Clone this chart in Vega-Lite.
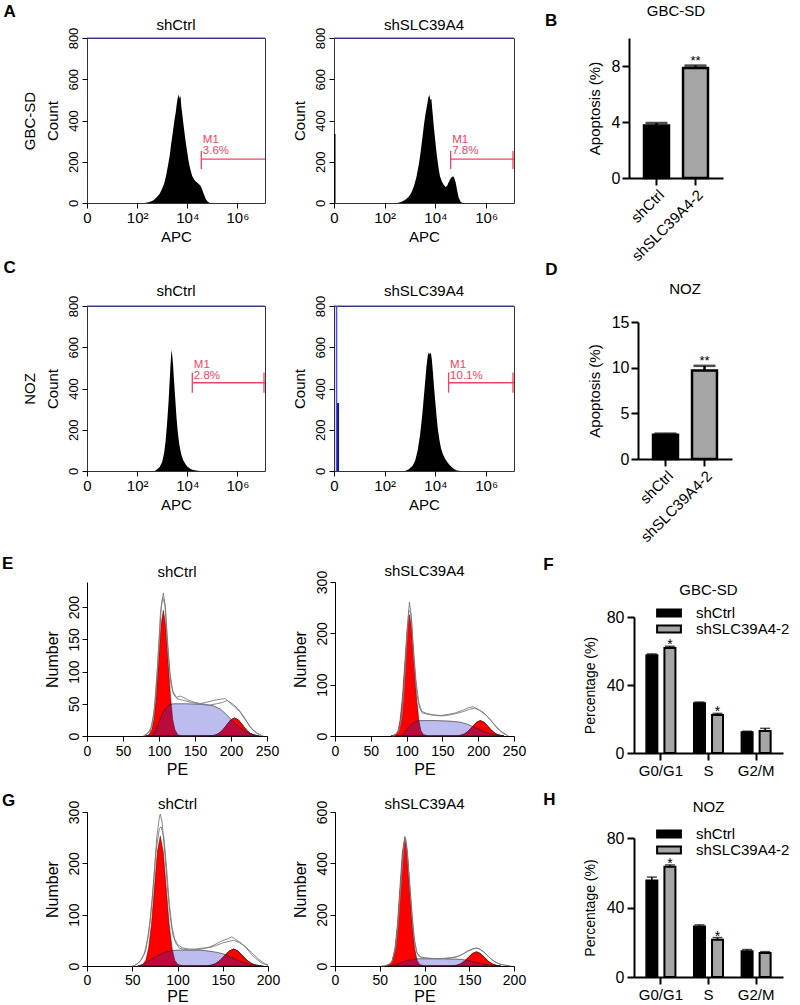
{
"$schema": "https://vega.github.io/schema/vega-lite/v6.json",
"background": "white",
"padding": {"left": 2, "top": 2, "right": 0, "bottom": 0},
"config": {
 "font": "Liberation Sans",
 "view": {"stroke": null},
 "axis": {"grid": false, "labelColor": "black", "titleColor": "black", "tickColor": "black", "domainColor": "black", "titleFontWeight": "normal", "labelFontSize": 13, "titleFontSize": 15, "labelFont": "Liberation Sans", "titleFont": "Liberation Sans", "labelOverlap": false},
 "title": {"fontWeight": "normal", "fontSize": 15, "font": "Liberation Sans", "color": "black"},
 "legend": {"labelFont": "Liberation Sans"}
},
"datasets": {
 "hA1": [{"u":2.3,"c":0},{"u":2.45,"c":4},{"u":2.6,"c":10},{"u":2.7,"c":18},{"u":2.8,"c":30},{"u":2.9,"c":45},{"u":3.0,"c":70},{"u":3.08,"c":95},{"u":3.15,"c":130},{"u":3.22,"c":175},{"u":3.3,"c":230},{"u":3.36,"c":290},{"u":3.42,"c":340},{"u":3.48,"c":395},{"u":3.54,"c":440},{"u":3.58,"c":480},{"u":3.62,"c":510},{"u":3.66,"c":525},{"u":3.7,"c":505},{"u":3.73,"c":520},{"u":3.76,"c":470},{"u":3.8,"c":430},{"u":3.85,"c":380},{"u":3.9,"c":330},{"u":3.95,"c":285},{"u":4.0,"c":245},{"u":4.05,"c":205},{"u":4.1,"c":175},{"u":4.15,"c":150},{"u":4.2,"c":130},{"u":4.27,"c":115},{"u":4.33,"c":105},{"u":4.4,"c":98},{"u":4.46,"c":92},{"u":4.52,"c":85},{"u":4.58,"c":70},{"u":4.64,"c":50},{"u":4.7,"c":30},{"u":4.76,"c":15},{"u":4.82,"c":6},{"u":4.9,"c":0}],
 "hA2": [{"u":2.5,"c":0},{"u":2.65,"c":5},{"u":2.8,"c":15},{"u":2.95,"c":30},{"u":3.05,"c":50},{"u":3.15,"c":80},{"u":3.25,"c":125},{"u":3.35,"c":190},{"u":3.42,"c":250},{"u":3.5,"c":330},{"u":3.56,"c":390},{"u":3.62,"c":440},{"u":3.68,"c":480},{"u":3.72,"c":510},{"u":3.76,"c":525},{"u":3.8,"c":500},{"u":3.84,"c":505},{"u":3.88,"c":450},{"u":3.93,"c":380},{"u":3.98,"c":320},{"u":4.03,"c":260},{"u":4.08,"c":210},{"u":4.13,"c":165},{"u":4.18,"c":130},{"u":4.25,"c":105},{"u":4.32,"c":90},{"u":4.4,"c":78},{"u":4.46,"c":82},{"u":4.52,"c":100},{"u":4.58,"c":115},{"u":4.64,"c":125},{"u":4.7,"c":130},{"u":4.74,"c":122},{"u":4.8,"c":100},{"u":4.86,"c":60},{"u":4.92,"c":25},{"u":5.0,"c":5},{"u":5.08,"c":0}],
 "hC1": [{"u":2.7,"c":0},{"u":2.8,"c":8},{"u":2.9,"c":20},{"u":3.0,"c":45},{"u":3.08,"c":90},{"u":3.14,"c":150},{"u":3.2,"c":240},{"u":3.25,"c":330},{"u":3.29,"c":420},{"u":3.33,"c":510},{"u":3.36,"c":570},{"u":3.38,"c":585},{"u":3.4,"c":560},{"u":3.43,"c":520},{"u":3.47,"c":440},{"u":3.52,"c":350},{"u":3.57,"c":260},{"u":3.62,"c":190},{"u":3.68,"c":130},{"u":3.75,"c":85},{"u":3.83,"c":55},{"u":3.92,"c":35},{"u":4.0,"c":22},{"u":4.1,"c":12},{"u":4.2,"c":6},{"u":4.35,"c":2},{"u":4.5,"c":0}],
 "hC2": [{"u":2.8,"c":0},{"u":2.95,"c":8},{"u":3.1,"c":25},{"u":3.2,"c":50},{"u":3.3,"c":100},{"u":3.4,"c":180},{"u":3.48,"c":270},{"u":3.55,"c":370},{"u":3.6,"c":440},{"u":3.65,"c":510},{"u":3.7,"c":560},{"u":3.74,"c":575},{"u":3.78,"c":565},{"u":3.82,"c":575},{"u":3.86,"c":540},{"u":3.9,"c":480},{"u":3.95,"c":400},{"u":4.0,"c":330},{"u":4.05,"c":260},{"u":4.1,"c":200},{"u":4.16,"c":150},{"u":4.22,"c":110},{"u":4.3,"c":80},{"u":4.38,"c":60},{"u":4.46,"c":45},{"u":4.55,"c":30},{"u":4.65,"c":18},{"u":4.75,"c":8},{"u":4.85,"c":3},{"u":5.0,"c":0}],
 "cE1": [
  {"s":"G1","x":80,"y":0},{"s":"G1","x":86,"y":2},{"s":"G1","x":90,"y":10},{"s":"G1","x":93,"y":26},{"s":"G1","x":96,"y":61},{"s":"G1","x":99.5,"y":118},{"s":"G1","x":103,"y":174},{"s":"G1","x":106,"y":195},{"s":"G1","x":109,"y":174},{"s":"G1","x":112.5,"y":118},{"s":"G1","x":116,"y":61},{"s":"G1","x":119,"y":26},{"s":"G1","x":122,"y":10},{"s":"G1","x":126,"y":2},{"s":"G1","x":132,"y":0},
  {"s":"G2","x":172,"y":0.3},{"s":"G2","x":177.5,"y":1.2},{"s":"G2","x":183,"y":3.8},{"s":"G2","x":188.5,"y":9.1},{"s":"G2","x":194,"y":17},{"s":"G2","x":199.5,"y":24.7},{"s":"G2","x":205,"y":28},{"s":"G2","x":210.5,"y":24.7},{"s":"G2","x":216,"y":17},{"s":"G2","x":221.5,"y":9.1},{"s":"G2","x":227,"y":3.8},{"s":"G2","x":232.5,"y":1.2},{"s":"G2","x":238,"y":0.3},
  {"s":"S","x":90,"y":0},{"s":"S","x":95,"y":8},{"s":"S","x":100,"y":22},{"s":"S","x":105,"y":35},{"s":"S","x":110,"y":44},{"s":"S","x":115,"y":49},{"s":"S","x":120,"y":50},{"s":"S","x":140,"y":50},{"s":"S","x":160,"y":49},{"s":"S","x":175,"y":47},{"s":"S","x":185,"y":42},{"s":"S","x":192,"y":35},{"s":"S","x":200,"y":26},{"s":"S","x":208,"y":17},{"s":"S","x":216,"y":10},{"s":"S","x":224,"y":5},{"s":"S","x":232,"y":2},{"s":"S","x":240,"y":0},
  {"s":"r1","x":78,"y":0},{"s":"r1","x":85,"y":5},{"s":"r1","x":90,"y":15},{"s":"r1","x":95,"y":55},{"s":"r1","x":100,"y":140},{"s":"r1","x":103,"y":200},{"s":"r1","x":106,"y":222},{"s":"r1","x":109,"y":200},{"s":"r1","x":112,"y":140},{"s":"r1","x":116,"y":85},{"s":"r1","x":120,"y":65},{"s":"r1","x":125,"y":58},{"s":"r1","x":135,"y":55},{"s":"r1","x":145,"y":52},{"s":"r1","x":155,"y":50},{"s":"r1","x":165,"y":52},{"s":"r1","x":175,"y":55},{"s":"r1","x":185,"y":57},{"s":"r1","x":192,"y":58},{"s":"r1","x":198,"y":52},{"s":"r1","x":205,"y":45},{"s":"r1","x":212,"y":38},{"s":"r1","x":220,"y":25},{"s":"r1","x":228,"y":12},{"s":"r1","x":235,"y":5},{"s":"r1","x":245,"y":0},
  {"s":"r2","x":80,"y":0},{"s":"r2","x":88,"y":8},{"s":"r2","x":93,"y":35},{"s":"r2","x":98,"y":110},{"s":"r2","x":102,"y":190},{"s":"r2","x":105,"y":215},{"s":"r2","x":108,"y":205},{"s":"r2","x":111,"y":160},{"s":"r2","x":115,"y":100},{"s":"r2","x":119,"y":70},{"s":"r2","x":124,"y":60},{"s":"r2","x":130,"y":62},{"s":"r2","x":140,"y":56},{"s":"r2","x":150,"y":52},{"s":"r2","x":160,"y":50},{"s":"r2","x":170,"y":48},{"s":"r2","x":180,"y":50},{"s":"r2","x":188,"y":52},{"s":"r2","x":195,"y":55},{"s":"r2","x":202,"y":50},{"s":"r2","x":210,"y":42},{"s":"r2","x":218,"y":30},{"s":"r2","x":226,"y":15},{"s":"r2","x":234,"y":6},{"s":"r2","x":242,"y":0}
 ],
 "cE2": [
  {"s":"G1","x":78,"y":0},{"s":"G1","x":84.5,"y":3},{"s":"G1","x":88,"y":10},{"s":"G1","x":91,"y":32},{"s":"G1","x":94.25,"y":77},{"s":"G1","x":97.5,"y":143},{"s":"G1","x":100.75,"y":208},{"s":"G1","x":104,"y":236},{"s":"G1","x":107.25,"y":208},{"s":"G1","x":110.5,"y":143},{"s":"G1","x":113.75,"y":77},{"s":"G1","x":117,"y":32},{"s":"G1","x":120,"y":10},{"s":"G1","x":123.5,"y":3},{"s":"G1","x":130,"y":0},
  {"s":"G2","x":170,"y":0.3},{"s":"G2","x":175.5,"y":1.3},{"s":"G2","x":181,"y":4},{"s":"G2","x":186.5,"y":9.7},{"s":"G2","x":192,"y":18},{"s":"G2","x":197.5,"y":26.5},{"s":"G2","x":203,"y":30},{"s":"G2","x":208.5,"y":26.5},{"s":"G2","x":214,"y":18},{"s":"G2","x":219.5,"y":9.7},{"s":"G2","x":225,"y":4},{"s":"G2","x":230.5,"y":1.3},{"s":"G2","x":236,"y":0.3},
  {"s":"S","x":92,"y":0},{"s":"S","x":97,"y":6},{"s":"S","x":102,"y":15},{"s":"S","x":107,"y":23},{"s":"S","x":112,"y":28},{"s":"S","x":118,"y":30},{"s":"S","x":140,"y":30},{"s":"S","x":160,"y":29},{"s":"S","x":175,"y":27},{"s":"S","x":185,"y":23},{"s":"S","x":193,"y":18},{"s":"S","x":201,"y":13},{"s":"S","x":209,"y":8},{"s":"S","x":217,"y":4},{"s":"S","x":226,"y":2},{"s":"S","x":235,"y":0},
  {"s":"r1","x":80,"y":0},{"s":"r1","x":86,"y":4},{"s":"r1","x":90,"y":12},{"s":"r1","x":94,"y":45},{"s":"r1","x":98,"y":130},{"s":"r1","x":101,"y":210},{"s":"r1","x":104,"y":261},{"s":"r1","x":107,"y":225},{"s":"r1","x":110,"y":150},{"s":"r1","x":114,"y":85},{"s":"r1","x":118,"y":55},{"s":"r1","x":122,"y":45},{"s":"r1","x":130,"y":42},{"s":"r1","x":140,"y":40},{"s":"r1","x":150,"y":39},{"s":"r1","x":160,"y":41},{"s":"r1","x":170,"y":44},{"s":"r1","x":180,"y":48},{"s":"r1","x":188,"y":52},{"s":"r1","x":195,"y":54},{"s":"r1","x":202,"y":50},{"s":"r1","x":210,"y":42},{"s":"r1","x":218,"y":30},{"s":"r1","x":226,"y":16},{"s":"r1","x":234,"y":6},{"s":"r1","x":242,"y":0},
  {"s":"r2","x":82,"y":0},{"s":"r2","x":88,"y":8},{"s":"r2","x":92,"y":30},{"s":"r2","x":96,"y":90},{"s":"r2","x":100,"y":180},{"s":"r2","x":103,"y":245},{"s":"r2","x":106,"y":240},{"s":"r2","x":109,"y":180},{"s":"r2","x":113,"y":110},{"s":"r2","x":117,"y":65},{"s":"r2","x":121,"y":48},{"s":"r2","x":128,"y":44},{"s":"r2","x":138,"y":41},{"s":"r2","x":148,"y":40},{"s":"r2","x":158,"y":42},{"s":"r2","x":168,"y":45},{"s":"r2","x":178,"y":50},{"s":"r2","x":186,"y":55},{"s":"r2","x":193,"y":57},{"s":"r2","x":200,"y":52},{"s":"r2","x":208,"y":45},{"s":"r2","x":216,"y":33},{"s":"r2","x":224,"y":20},{"s":"r2","x":232,"y":9},{"s":"r2","x":240,"y":2}
 ],
 "cG1": [
  {"s":"G1","x":56,"y":0},{"s":"G1","x":61.5,"y":3},{"s":"G1","x":65,"y":11},{"s":"G1","x":68,"y":34},{"s":"G1","x":71.25,"y":82},{"s":"G1","x":74.5,"y":153},{"s":"G1","x":77.75,"y":223},{"s":"G1","x":81,"y":253},{"s":"G1","x":84.25,"y":223},{"s":"G1","x":87.5,"y":153},{"s":"G1","x":90.75,"y":82},{"s":"G1","x":94,"y":34},{"s":"G1","x":97,"y":11},{"s":"G1","x":100.5,"y":3},{"s":"G1","x":106,"y":0},
  {"s":"G2","x":132,"y":0.4},{"s":"G2","x":137,"y":1.4},{"s":"G2","x":142,"y":4.5},{"s":"G2","x":147,"y":10.7},{"s":"G2","x":152,"y":20},{"s":"G2","x":157,"y":29},{"s":"G2","x":162,"y":33},{"s":"G2","x":167,"y":29},{"s":"G2","x":172,"y":20},{"s":"G2","x":177,"y":10.7},{"s":"G2","x":182,"y":4.5},{"s":"G2","x":187,"y":1.4},{"s":"G2","x":192,"y":0.4},
  {"s":"S","x":58,"y":0},{"s":"S","x":64,"y":5},{"s":"S","x":70,"y":12},{"s":"S","x":78,"y":20},{"s":"S","x":86,"y":27},{"s":"S","x":94,"y":30},{"s":"S","x":100,"y":31},{"s":"S","x":115,"y":31},{"s":"S","x":125,"y":31},{"s":"S","x":135,"y":29},{"s":"S","x":142,"y":27},{"s":"S","x":150,"y":24},{"s":"S","x":157,"y":19},{"s":"S","x":164,"y":13},{"s":"S","x":171,"y":8},{"s":"S","x":178,"y":4},{"s":"S","x":186,"y":2},{"s":"S","x":195,"y":0},
  {"s":"r1","x":50,"y":0},{"s":"r1","x":55,"y":3},{"s":"r1","x":60,"y":12},{"s":"r1","x":65,"y":30},{"s":"r1","x":70,"y":90},{"s":"r1","x":74,"y":170},{"s":"r1","x":77,"y":250},{"s":"r1","x":80,"y":290},{"s":"r1","x":81,"y":296},{"s":"r1","x":83,"y":280},{"s":"r1","x":86,"y":220},{"s":"r1","x":89,"y":150},{"s":"r1","x":92,"y":95},{"s":"r1","x":95,"y":60},{"s":"r1","x":98,"y":45},{"s":"r1","x":102,"y":35},{"s":"r1","x":108,"y":32},{"s":"r1","x":115,"y":31},{"s":"r1","x":122,"y":32},{"s":"r1","x":130,"y":34},{"s":"r1","x":137,"y":38},{"s":"r1","x":144,"y":44},{"s":"r1","x":150,"y":50},{"s":"r1","x":156,"y":53},{"s":"r1","x":160,"y":57},{"s":"r1","x":164,"y":52},{"s":"r1","x":170,"y":45},{"s":"r1","x":176,"y":35},{"s":"r1","x":182,"y":22},{"s":"r1","x":188,"y":12},{"s":"r1","x":194,"y":5},{"s":"r1","x":200,"y":1},
  {"s":"r2","x":52,"y":0},{"s":"r2","x":58,"y":8},{"s":"r2","x":63,"y":22},{"s":"r2","x":68,"y":60},{"s":"r2","x":72,"y":130},{"s":"r2","x":76,"y":220},{"s":"r2","x":80,"y":268},{"s":"r2","x":82,"y":271},{"s":"r2","x":85,"y":250},{"s":"r2","x":88,"y":190},{"s":"r2","x":91,"y":120},{"s":"r2","x":94,"y":75},{"s":"r2","x":97,"y":52},{"s":"r2","x":100,"y":42},{"s":"r2","x":106,"y":35},{"s":"r2","x":113,"y":33},{"s":"r2","x":120,"y":33},{"s":"r2","x":128,"y":35},{"s":"r2","x":136,"y":36},{"s":"r2","x":143,"y":40},{"s":"r2","x":150,"y":45},{"s":"r2","x":157,"y":48},{"s":"r2","x":162,"y":50},{"s":"r2","x":168,"y":46},{"s":"r2","x":175,"y":38},{"s":"r2","x":182,"y":26},{"s":"r2","x":189,"y":14},{"s":"r2","x":196,"y":5},{"s":"r2","x":200,"y":2}
 ],
 "cG2": [
  {"s":"G1","x":56,"y":0},{"s":"G1","x":61.5,"y":6},{"s":"G1","x":64.25,"y":22},{"s":"G1","x":67,"y":68},{"s":"G1","x":69.75,"y":163},{"s":"G1","x":72.5,"y":304},{"s":"G1","x":75.25,"y":443},{"s":"G1","x":78,"y":502},{"s":"G1","x":80.75,"y":443},{"s":"G1","x":83.5,"y":304},{"s":"G1","x":86.25,"y":163},{"s":"G1","x":89,"y":68},{"s":"G1","x":91.75,"y":22},{"s":"G1","x":94.5,"y":6},{"s":"G1","x":100,"y":0},
  {"s":"G2","x":131,"y":0.6},{"s":"G2","x":135.5,"y":2.4},{"s":"G2","x":140,"y":7.4},{"s":"G2","x":144.5,"y":17.9},{"s":"G2","x":149,"y":33.4},{"s":"G2","x":153.5,"y":48.5},{"s":"G2","x":158,"y":55},{"s":"G2","x":162.5,"y":48.5},{"s":"G2","x":167,"y":33.4},{"s":"G2","x":171.5,"y":17.9},{"s":"G2","x":176,"y":7.4},{"s":"G2","x":180.5,"y":2.4},{"s":"G2","x":185,"y":0.6},
  {"s":"S","x":63,"y":0},{"s":"S","x":70,"y":8},{"s":"S","x":78,"y":18},{"s":"S","x":85,"y":25},{"s":"S","x":92,"y":28},{"s":"S","x":100,"y":28},{"s":"S","x":120,"y":28},{"s":"S","x":135,"y":27},{"s":"S","x":142,"y":25},{"s":"S","x":148,"y":22},{"s":"S","x":154,"y":17},{"s":"S","x":160,"y":12},{"s":"S","x":167,"y":7},{"s":"S","x":175,"y":3},{"s":"S","x":185,"y":0},
  {"s":"r1","x":52,"y":0},{"s":"r1","x":58,"y":3},{"s":"r1","x":63,"y":12},{"s":"r1","x":67,"y":60},{"s":"r1","x":70,"y":150},{"s":"r1","x":73,"y":290},{"s":"r1","x":76,"y":430},{"s":"r1","x":78,"y":505},{"s":"r1","x":80,"y":470},{"s":"r1","x":82,"y":380},{"s":"r1","x":85,"y":250},{"s":"r1","x":88,"y":120},{"s":"r1","x":91,"y":55},{"s":"r1","x":94,"y":38},{"s":"r1","x":98,"y":32},{"s":"r1","x":105,"y":30},{"s":"r1","x":115,"y":29},{"s":"r1","x":125,"y":30},{"s":"r1","x":135,"y":35},{"s":"r1","x":142,"y":45},{"s":"r1","x":148,"y":58},{"s":"r1","x":153,"y":66},{"s":"r1","x":157,"y":70},{"s":"r1","x":161,"y":68},{"s":"r1","x":166,"y":55},{"s":"r1","x":171,"y":38},{"s":"r1","x":176,"y":22},{"s":"r1","x":182,"y":10},{"s":"r1","x":188,"y":4},{"s":"r1","x":195,"y":1},
  {"s":"r2","x":54,"y":0},{"s":"r2","x":60,"y":5},{"s":"r2","x":64,"y":20},{"s":"r2","x":68,"y":80},{"s":"r2","x":71,"y":190},{"s":"r2","x":74,"y":340},{"s":"r2","x":77,"y":480},{"s":"r2","x":79,"y":495},{"s":"r2","x":81,"y":440},{"s":"r2","x":83,"y":340},{"s":"r2","x":86,"y":200},{"s":"r2","x":89,"y":95},{"s":"r2","x":92,"y":48},{"s":"r2","x":96,"y":35},{"s":"r2","x":102,"y":31},{"s":"r2","x":110,"y":29},{"s":"r2","x":120,"y":29},{"s":"r2","x":130,"y":32},{"s":"r2","x":138,"y":38},{"s":"r2","x":145,"y":50},{"s":"r2","x":150,"y":60},{"s":"r2","x":155,"y":67},{"s":"r2","x":159,"y":69},{"s":"r2","x":163,"y":63},{"s":"r2","x":168,"y":50},{"s":"r2","x":173,"y":32},{"s":"r2","x":178,"y":18},{"s":"r2","x":184,"y":8},{"s":"r2","x":190,"y":3},{"s":"r2","x":197,"y":0}
 ]
},
"spacing": 10,
"resolve": {"scale": {"color": "independent"}},
"vconcat": [
 {"spacing": -6, "resolve": {"scale": {"color": "independent"}}, "vconcat": [
  {"spacing": 29, "resolve": {"scale": {"color": "independent"}}, "hconcat": [
   {"title": {"text": "A", "anchor": "start", "fontSize": 17, "fontWeight": "bold", "dx": -18, "offset": -3},
    "spacing": 24,
    "hconcat": [
     {"width": 178, "height": 165, "title": {"text": "shCtrl", "offset": -6},
      "view": {"stroke": "#333", "strokeWidth": 1},
      "encoding": {
       "x": {"field": "u", "type": "quantitative", "scale": {"domain": [0, 7.1], "nice": false, "zero": false}, "axis": {"values": [0,2,4,6], "labelExpr": "datum.value == 0 ? '0' : datum.value == 2 ? '10²' : datum.value == 4 ? '10⁴' : '10⁶'", "domain": false, "tickSize": 5, "labelPadding": 2, "labelFontSize": 15, "labelFlush": false, "title": "APC", "titlePadding": 4}},
       "y": {"field": "c", "type": "quantitative", "scale": {"domain": [0, 800], "nice": false}, "axis": {"values": [0,200,400,600,800], "labelAngle": 270, "labelAlign": "center", "labelBaseline": "bottom", "domain": false, "tickSize": 5, "labelPadding": 2, "title": ["GBC-SD", "Count"], "titleLineHeight": 23, "titlePadding": 7}}
      },
      "layer": [
       {"data": {"name": "hA1"}, "mark": {"type": "area", "color": "black", "interpolate": "linear"}},
       {"data": {"values": [{"u": 0, "u2": 7.1, "c": 800}]}, "mark": {"type": "rule", "color": "#3c3cd8", "strokeWidth": 1.2}, "encoding": {"x2": {"field": "u2"}}},
       {"data": {"values": [{"u": 4.56, "u2": 7.1, "c": 213}]}, "mark": {"type": "rule", "color": "#f0445e", "strokeWidth": 1.3}, "encoding": {"x2": {"field": "u2"}}},
       {"data": {"values": [{"u": 4.56, "c": 165, "c2": 252}]}, "mark": {"type": "rule", "color": "#f0445e", "strokeWidth": 1.3}, "encoding": {"y2": {"field": "c2"}}},
       {"data": {"values": [{"u": 4.62, "c": 290, "t": "M1"}, {"u": 4.62, "c": 236, "t": "3.6%"}]}, "mark": {"type": "text", "color": "#f0445e", "align": "left", "baseline": "alphabetic", "fontSize": 11.5}, "encoding": {"text": {"field": "t"}}}
      ]},
     {"width": 180, "height": 165, "title": {"text": "shSLC39A4", "offset": -6},
      "view": {"stroke": "#333", "strokeWidth": 1},
      "encoding": {
       "x": {"field": "u", "type": "quantitative", "scale": {"domain": [0, 7.1], "nice": false, "zero": false}, "axis": {"values": [0,2,4,6], "labelExpr": "datum.value == 0 ? '0' : datum.value == 2 ? '10²' : datum.value == 4 ? '10⁴' : '10⁶'", "domain": false, "tickSize": 5, "labelPadding": 2, "labelFontSize": 15, "labelFlush": false, "title": "APC", "titlePadding": 4}},
       "y": {"field": "c", "type": "quantitative", "scale": {"domain": [0, 800], "nice": false}, "axis": {"values": [0,200,400,600,800], "labelAngle": 270, "labelAlign": "center", "labelBaseline": "bottom", "domain": false, "tickSize": 5, "labelPadding": 2, "title": "Count", "titlePadding": 7}}
      },
      "layer": [
       {"data": {"name": "hA2"}, "mark": {"type": "area", "color": "black", "interpolate": "linear"}},
       {"data": {"values": [{"u": 0.03, "c": 0, "c2": 335}]}, "mark": {"type": "rule", "color": "black", "strokeWidth": 1.5}, "encoding": {"y2": {"field": "c2"}}},
       {"data": {"values": [{"u": 0, "u2": 7.1, "c": 800}]}, "mark": {"type": "rule", "color": "#3c3cd8", "strokeWidth": 1.2}, "encoding": {"x2": {"field": "u2"}}},
       {"data": {"values": [{"u": 4.6, "u2": 7.1, "c": 213}]}, "mark": {"type": "rule", "color": "#f0445e", "strokeWidth": 1.3}, "encoding": {"x2": {"field": "u2"}}},
       {"data": {"values": [{"u": 4.6, "c": 165, "c2": 252}, {"u": 7.06, "c": 165, "c2": 252}]}, "mark": {"type": "rule", "color": "#f0445e", "strokeWidth": 1.3}, "encoding": {"y2": {"field": "c2"}}},
       {"data": {"values": [{"u": 4.66, "c": 290, "t": "M1"}, {"u": 4.66, "c": 236, "t": "7.8%"}]}, "mark": {"type": "text", "color": "#f0445e", "align": "left", "baseline": "alphabetic", "fontSize": 11.5}, "encoding": {"text": {"field": "t"}}}
      ]}
    ]},
   {"title": {"text": "B", "anchor": "start", "fontSize": 17, "fontWeight": "bold", "dx": -42, "offset": -26},
    "vconcat": [
     {"width": 94, "height": 140, "title": {"text": "GBC-SD", "offset": 19},
      "data": {"values": [{"g": "shCtrl", "v": 3.75, "e": 3.93, "star": ""}, {"g": "shSLC39A4-2", "v": 7.85, "e": 8.03, "star": "**"}]},
      "encoding": {"x": {"field": "g", "type": "nominal", "sort": null, "scale": {"paddingInner": 0.36, "paddingOuter": 0.385}, "axis": {"title": null, "labelAngle": -45, "labelFontSize": 15, "domainWidth": 2, "tickWidth": 2, "tickSize": 7, "labelPadding": 2}}},
      "layer": [
       {"mark": {"type": "bar", "stroke": "black", "strokeWidth": 2.5},
        "encoding": {"y": {"field": "v", "type": "quantitative", "scale": {"domain": [0, 10], "nice": false}, "axis": {"values": [0,2,4,6,8,10], "title": "Apoptosis (%)", "titleFontSize": 15, "labelFontSize": 16, "domainWidth": 2, "tickWidth": 2, "tickSize": 7, "labelPadding": 2, "titlePadding": 9}},
         "color": {"field": "g", "type": "nominal", "sort": null, "scale": {"range": ["black", "#a6a6a6"]}, "legend": null}}},
       {"mark": {"type": "rule", "color": "black", "strokeWidth": 2.5}, "encoding": {"y": {"field": "v", "type": "quantitative"}, "y2": {"field": "e"}}},
       {"mark": {"type": "tick", "color": "black", "thickness": 2.5, "size": 22}, "encoding": {"y": {"field": "e", "type": "quantitative"}}},
       {"mark": {"type": "text", "baseline": "bottom", "dy": 2, "fontSize": 13}, "encoding": {"y": {"field": "e", "type": "quantitative"}, "text": {"field": "star"}}}
      ]}
    ]}
  ]},
  {"spacing": 29, "resolve": {"scale": {"color": "independent"}}, "hconcat": [
   {"title": {"text": "C", "anchor": "start", "fontSize": 17, "fontWeight": "bold", "dx": -18, "offset": 7},
    "spacing": 24,
    "hconcat": [
     {"width": 178, "height": 165, "title": {"text": "shCtrl", "offset": -4},
      "view": {"stroke": "#333", "strokeWidth": 1},
      "encoding": {
       "x": {"field": "u", "type": "quantitative", "scale": {"domain": [0, 7.1], "nice": false, "zero": false}, "axis": {"values": [0,2,4,6], "labelExpr": "datum.value == 0 ? '0' : datum.value == 2 ? '10²' : datum.value == 4 ? '10⁴' : '10⁶'", "domain": false, "tickSize": 5, "labelPadding": 2, "labelFontSize": 15, "labelFlush": false, "title": "APC", "titlePadding": 4}},
       "y": {"field": "c", "type": "quantitative", "scale": {"domain": [0, 800], "nice": false}, "axis": {"values": [0,200,400,600,800], "labelAngle": 270, "labelAlign": "center", "labelBaseline": "bottom", "domain": false, "tickSize": 5, "labelPadding": 2, "title": ["NOZ", "Count"], "titleLineHeight": 23, "titlePadding": 7}}
      },
      "layer": [
       {"data": {"name": "hC1"}, "mark": {"type": "area", "color": "black", "interpolate": "linear"}},
       {"data": {"values": [{"u": 0, "u2": 7.1, "c": 800}]}, "mark": {"type": "rule", "color": "#3c3cd8", "strokeWidth": 1.2}, "encoding": {"x2": {"field": "u2"}}},
       {"data": {"values": [{"u": 4.2, "u2": 7.1, "c": 428}]}, "mark": {"type": "rule", "color": "#f0445e", "strokeWidth": 1.3}, "encoding": {"x2": {"field": "u2"}}},
       {"data": {"values": [{"u": 4.2, "c": 380, "c2": 478}, {"u": 7.06, "c": 380, "c2": 478}]}, "mark": {"type": "rule", "color": "#f0445e", "strokeWidth": 1.3}, "encoding": {"y2": {"field": "c2"}}},
       {"data": {"values": [{"u": 4.26, "c": 500, "t": "M1"}, {"u": 4.26, "c": 446, "t": "2.8%"}]}, "mark": {"type": "text", "color": "#f0445e", "align": "left", "baseline": "alphabetic", "fontSize": 11.5}, "encoding": {"text": {"field": "t"}}}
      ]},
     {"width": 180, "height": 165, "title": {"text": "shSLC39A4", "offset": -4},
      "view": {"stroke": "#333", "strokeWidth": 1},
      "encoding": {
       "x": {"field": "u", "type": "quantitative", "scale": {"domain": [0, 7.1], "nice": false, "zero": false}, "axis": {"values": [0,2,4,6], "labelExpr": "datum.value == 0 ? '0' : datum.value == 2 ? '10²' : datum.value == 4 ? '10⁴' : '10⁶'", "domain": false, "tickSize": 5, "labelPadding": 2, "labelFontSize": 15, "labelFlush": false, "title": "APC", "titlePadding": 4}},
       "y": {"field": "c", "type": "quantitative", "scale": {"domain": [0, 800], "nice": false}, "axis": {"values": [0,200,400,600,800], "labelAngle": 270, "labelAlign": "center", "labelBaseline": "bottom", "domain": false, "tickSize": 5, "labelPadding": 2, "title": "Count", "titlePadding": 7}}
      },
      "layer": [
       {"data": {"name": "hC2"}, "mark": {"type": "area", "color": "black", "interpolate": "linear"}},
       {"data": {"values": [{"u": 0.1, "c": 0, "c2": 800}]}, "mark": {"type": "rule", "color": "#4848ff", "strokeWidth": 1.5}, "encoding": {"y2": {"field": "c2"}}},
       {"data": {"values": [{"u": 0.16, "c": 0, "c2": 330}]}, "mark": {"type": "rule", "color": "#1a1a80", "strokeWidth": 2}, "encoding": {"y2": {"field": "c2"}}},
       {"data": {"values": [{"u": 0, "u2": 7.1, "c": 800}]}, "mark": {"type": "rule", "color": "#3c3cd8", "strokeWidth": 1.2}, "encoding": {"x2": {"field": "u2"}}},
       {"data": {"values": [{"u": 4.52, "u2": 7.1, "c": 428}]}, "mark": {"type": "rule", "color": "#f0445e", "strokeWidth": 1.3}, "encoding": {"x2": {"field": "u2"}}},
       {"data": {"values": [{"u": 4.52, "c": 380, "c2": 478}, {"u": 7.06, "c": 380, "c2": 478}]}, "mark": {"type": "rule", "color": "#f0445e", "strokeWidth": 1.3}, "encoding": {"y2": {"field": "c2"}}},
       {"data": {"values": [{"u": 4.58, "c": 500, "t": "M1"}, {"u": 4.58, "c": 446, "t": "10.1%"}]}, "mark": {"type": "text", "color": "#f0445e", "align": "left", "baseline": "alphabetic", "fontSize": 11.5}, "encoding": {"text": {"field": "t"}}}
      ]}
    ]},
   {"title": {"text": "D", "anchor": "start", "fontSize": 17, "fontWeight": "bold", "dx": -42, "offset": 3},
    "spacing": 0,
    "vconcat": [
     {"width": 94, "height": 6, "title": {"text": "NOZ", "offset": 6}, "data": {"values": [{}]}, "mark": {"type": "text", "text": ""}},
     {"width": 94, "height": 137,
      "data": {"values": [{"g": "shCtrl", "v": 2.65, "e": 2.78, "star": ""}, {"g": "shSLC39A4-2", "v": 9.7, "e": 10.2, "star": "**"}]},
      "encoding": {"x": {"field": "g", "type": "nominal", "sort": null, "scale": {"paddingInner": 0.36, "paddingOuter": 0.385}, "axis": {"title": null, "labelAngle": -45, "labelFontSize": 15, "domainWidth": 2, "tickWidth": 2, "tickSize": 7, "labelPadding": 2}}},
      "layer": [
       {"mark": {"type": "bar", "stroke": "black", "strokeWidth": 2.5},
        "encoding": {"y": {"field": "v", "type": "quantitative", "scale": {"domain": [0, 15], "nice": false}, "axis": {"values": [0,5,10,15], "title": "Apoptosis (%)", "titleFontSize": 15, "labelFontSize": 16, "domainWidth": 2, "tickWidth": 2, "tickSize": 7, "labelPadding": 2, "titlePadding": 9}},
         "color": {"field": "g", "type": "nominal", "sort": null, "scale": {"range": ["black", "#a6a6a6"]}, "legend": null}}},
       {"mark": {"type": "rule", "color": "black", "strokeWidth": 2.5}, "encoding": {"y": {"field": "v", "type": "quantitative"}, "y2": {"field": "e"}}},
       {"mark": {"type": "tick", "color": "black", "thickness": 2.5, "size": 22}, "encoding": {"y": {"field": "e", "type": "quantitative"}}},
       {"mark": {"type": "text", "baseline": "bottom", "dy": 2, "fontSize": 13}, "encoding": {"y": {"field": "e", "type": "quantitative"}, "text": {"field": "star"}}}
      ]}
    ]}
  ]}
 ]},
 {"spacing": 13, "resolve": {"scale": {"color": "independent"}}, "vconcat": [
  {"spacing": 17, "resolve": {"scale": {"color": "independent"}}, "hconcat": [
   {"title": {"text": "E", "anchor": "start", "fontSize": 17, "fontWeight": "bold", "dx": -42, "offset": -9},
    "spacing": 13,
    "hconcat": [
     {"width": 180, "height": 154, "title": {"text": "shCtrl", "offset": 2},
      "data": {"name": "cE1"},
      "encoding": {
       "x": {"field": "x", "type": "quantitative", "scale": {"domain": [0, 250], "nice": false}, "axis": {"values": [0,50,100,150,200,250], "tickSize": 5, "labelFontSize": 14, "title": "PE", "titleFontSize": 16, "labelFlush": false, "labelPadding": 3, "titlePadding": 3}},
       "y": {"field": "y", "type": "quantitative", "scale": {"domain": [0, 239], "nice": false}, "axis": {"values": [0,50,100,150,200], "labelAngle": 270, "labelAlign": "center", "labelBaseline": "bottom", "labelFontSize": 14, "title": "Number", "titleFontSize": 16, "tickSize": 5, "labelPadding": 1, "titlePadding": 7, "labelFlush": false}}
      },
      "layer": [
       {"transform": [{"filter": "datum.s == 'G1' || datum.s == 'G2'"}], "mark": {"type": "area", "color": "#ff0000", "stroke": "#400000", "strokeWidth": 0.5}, "encoding": {"detail": {"field": "s"}}},
       {"transform": [{"filter": "datum.s == 'S'"}], "mark": {"type": "area", "color": "#2222c8", "fillOpacity": 0.3, "stroke": "#222", "strokeWidth": 0.6}},
       {"transform": [{"filter": "datum.s == 'r1' || datum.s == 'r2'"}], "mark": {"type": "line", "color": "#7a7a7a", "strokeWidth": 0.9}, "encoding": {"detail": {"field": "s"}}}
      ]},
     {"width": 179, "height": 154, "title": {"text": "shSLC39A4", "offset": -9},
      "data": {"name": "cE2"},
      "encoding": {
       "x": {"field": "x", "type": "quantitative", "scale": {"domain": [0, 250], "nice": false}, "axis": {"values": [0,50,100,150,200,250], "tickSize": 5, "labelFontSize": 14, "title": "PE", "titleFontSize": 16, "labelFlush": false, "labelPadding": 3, "titlePadding": 3}},
       "y": {"field": "y", "type": "quantitative", "scale": {"domain": [0, 300], "nice": false}, "axis": {"values": [0,100,200,300], "labelAngle": 270, "labelAlign": "center", "labelBaseline": "bottom", "labelFontSize": 14, "title": "Number", "titleFontSize": 16, "tickSize": 5, "labelPadding": 1, "titlePadding": 7, "labelFlush": false}}
      },
      "layer": [
       {"transform": [{"filter": "datum.s == 'G1' || datum.s == 'G2'"}], "mark": {"type": "area", "color": "#ff0000", "stroke": "#400000", "strokeWidth": 0.5}, "encoding": {"detail": {"field": "s"}}},
       {"transform": [{"filter": "datum.s == 'S'"}], "mark": {"type": "area", "color": "#2222c8", "fillOpacity": 0.3, "stroke": "#222", "strokeWidth": 0.6}},
       {"transform": [{"filter": "datum.s == 'r1' || datum.s == 'r2'"}], "mark": {"type": "line", "color": "#7a7a7a", "strokeWidth": 0.9}, "encoding": {"detail": {"field": "s"}}}
      ]}
    ]},
   {"title": {"text": "F", "anchor": "start", "fontSize": 17, "fontWeight": "bold", "dx": -40, "offset": 8},
    "spacing": 0,
    "resolve": {"scale": {"color": "independent"}},
    "vconcat": [
     {"width": 149, "height": 23, "title": {"text": "GBC-SD", "offset": -16}, "data": {"values": [{}]}, "mark": {"type": "text", "text": ""}},
     {"width": 149, "height": 136,
      "data": {"values": [
       {"c": "G0/G1", "g": "shCtrl", "v": 57.5, "e": 58.3, "star": ""},
       {"c": "G0/G1", "g": "shSLC39A4-2", "v": 61.8, "e": 62.8, "star": "*"},
       {"c": "S", "g": "shCtrl", "v": 29.2, "e": 30.0, "star": ""},
       {"c": "S", "g": "shSLC39A4-2", "v": 22.3, "e": 23.3, "star": "*"},
       {"c": "G2/M", "g": "shCtrl", "v": 12.2, "e": 12.8, "star": ""},
       {"c": "G2/M", "g": "shSLC39A4-2", "v": 13.0, "e": 14.5, "star": ""}]},
      "encoding": {
       "x": {"field": "c", "type": "nominal", "sort": null, "scale": {"paddingInner": 0.39, "paddingOuter": 0.26}, "axis": {"title": null, "labelAngle": 0, "labelFontSize": 15, "domainWidth": 2, "tickWidth": 2, "tickSize": 7, "labelPadding": 3}},
       "xOffset": {"field": "g", "type": "nominal", "sort": null, "scale": {"paddingInner": 0.39, "paddingOuter": 0}}
      },
      "layer": [
       {"mark": {"type": "bar", "stroke": "black", "strokeWidth": 2},
        "encoding": {"y": {"field": "v", "type": "quantitative", "scale": {"domain": [0, 80], "nice": false}, "axis": {"values": [0,20,40,60,80], "title": "Percentage (%)", "titleFontSize": 14, "labelFontSize": 16, "domainWidth": 2, "tickWidth": 2, "tickSize": 7, "labelPadding": 3, "titlePadding": 9}},
         "color": {"field": "g", "type": "nominal", "sort": null, "scale": {"range": ["black", "#a6a6a6"]},
          "legend": {"title": null, "orient": "none", "legendX": 27, "legendY": -12, "direction": "vertical", "labelFontSize": 15, "symbolType": "M-1.7,-0.5H1.7V0.5H-1.7Z", "symbolSize": 196, "symbolStrokeColor": "black", "symbolStrokeWidth": 2, "symbolOpacity": 1, "labelOffset": 19, "rowPadding": 0, "padding": 0, "labelColor": "black"}}}},
       {"mark": {"type": "rule", "color": "black", "strokeWidth": 1.5}, "encoding": {"y": {"field": "v", "type": "quantitative"}, "y2": {"field": "e"}}},
       {"mark": {"type": "tick", "color": "black", "thickness": 1.5, "size": 10}, "encoding": {"y": {"field": "e", "type": "quantitative"}}},
       {"mark": {"type": "text", "baseline": "bottom", "dy": 6, "fontSize": 14}, "encoding": {"y": {"field": "e", "type": "quantitative"}, "text": {"field": "star"}}}
      ]}
    ]}
  ]},
  {"spacing": 17, "resolve": {"scale": {"color": "independent"}}, "hconcat": [
   {"title": {"text": "G", "anchor": "start", "fontSize": 17, "fontWeight": "bold", "dx": -42, "offset": -13},
    "spacing": 12,
    "hconcat": [
     {"width": 181, "height": 154, "title": {"text": "shCtrl", "offset": -12},
      "data": {"name": "cG1"},
      "encoding": {
       "x": {"field": "x", "type": "quantitative", "scale": {"domain": [0, 200], "nice": false}, "axis": {"values": [0,50,100,150,200], "tickSize": 5, "labelFontSize": 14, "title": "PE", "titleFontSize": 16, "labelFlush": false, "labelPadding": 2, "titlePadding": 1}},
       "y": {"field": "y", "type": "quantitative", "scale": {"domain": [0, 300], "nice": false}, "axis": {"values": [0,100,200,300], "labelAngle": 270, "labelAlign": "center", "labelBaseline": "bottom", "labelFontSize": 14, "title": "Number", "titleFontSize": 16, "tickSize": 5, "labelPadding": 1, "titlePadding": 7, "labelFlush": false}}
      },
      "layer": [
       {"transform": [{"filter": "datum.s == 'G1' || datum.s == 'G2'"}], "mark": {"type": "area", "color": "#ff0000", "stroke": "#400000", "strokeWidth": 0.5}, "encoding": {"detail": {"field": "s"}}},
       {"transform": [{"filter": "datum.s == 'S'"}], "mark": {"type": "area", "color": "#2222c8", "fillOpacity": 0.3, "stroke": "#222", "strokeWidth": 0.6}},
       {"transform": [{"filter": "datum.s == 'r1' || datum.s == 'r2'"}], "mark": {"type": "line", "color": "#7a7a7a", "strokeWidth": 0.9}, "encoding": {"detail": {"field": "s"}}}
      ]},
     {"width": 179, "height": 154, "title": {"text": "shSLC39A4", "offset": -12},
      "data": {"name": "cG2"},
      "encoding": {
       "x": {"field": "x", "type": "quantitative", "scale": {"domain": [0, 200], "nice": false}, "axis": {"values": [0,50,100,150,200], "tickSize": 5, "labelFontSize": 14, "title": "PE", "titleFontSize": 16, "labelFlush": false, "labelPadding": 2, "titlePadding": 1}},
       "y": {"field": "y", "type": "quantitative", "scale": {"domain": [0, 600], "nice": false}, "axis": {"values": [0,200,400,600], "labelAngle": 270, "labelAlign": "center", "labelBaseline": "bottom", "labelFontSize": 14, "title": "Number", "titleFontSize": 16, "tickSize": 5, "labelPadding": 1, "titlePadding": 7, "labelFlush": false}}
      },
      "layer": [
       {"transform": [{"filter": "datum.s == 'G1' || datum.s == 'G2'"}], "mark": {"type": "area", "color": "#ff0000", "stroke": "#400000", "strokeWidth": 0.5}, "encoding": {"detail": {"field": "s"}}},
       {"transform": [{"filter": "datum.s == 'S'"}], "mark": {"type": "area", "color": "#2222c8", "fillOpacity": 0.3, "stroke": "#222", "strokeWidth": 0.6}},
       {"transform": [{"filter": "datum.s == 'r1' || datum.s == 'r2'"}], "mark": {"type": "line", "color": "#7a7a7a", "strokeWidth": 0.9}, "encoding": {"detail": {"field": "s"}}}
      ]}
    ]},
   {"title": {"text": "H", "anchor": "start", "fontSize": 17, "fontWeight": "bold", "dx": -40, "offset": -9},
    "spacing": 0,
    "resolve": {"scale": {"color": "independent"}},
    "vconcat": [
     {"width": 149, "height": 14, "title": {"text": "NOZ", "offset": -3}, "data": {"values": [{}]}, "mark": {"type": "text", "text": ""}},
     {"width": 149, "height": 139,
      "data": {"values": [
       {"c": "G0/G1", "g": "shCtrl", "v": 55.5, "e": 57.5, "star": ""},
       {"c": "G0/G1", "g": "shSLC39A4-2", "v": 63.5, "e": 64.5, "star": "*"},
       {"c": "S", "g": "shCtrl", "v": 29.0, "e": 30.0, "star": ""},
       {"c": "S", "g": "shSLC39A4-2", "v": 21.5, "e": 22.7, "star": "*"},
       {"c": "G2/M", "g": "shCtrl", "v": 14.8, "e": 15.8, "star": ""},
       {"c": "G2/M", "g": "shSLC39A4-2", "v": 13.8, "e": 14.6, "star": ""}]},
      "encoding": {
       "x": {"field": "c", "type": "nominal", "sort": null, "scale": {"paddingInner": 0.39, "paddingOuter": 0.26}, "axis": {"title": null, "labelAngle": 0, "labelFontSize": 15, "domainWidth": 2, "tickWidth": 2, "tickSize": 7, "labelPadding": 3}},
       "xOffset": {"field": "g", "type": "nominal", "sort": null, "scale": {"paddingInner": 0.39, "paddingOuter": 0}}
      },
      "layer": [
       {"mark": {"type": "bar", "stroke": "black", "strokeWidth": 2},
        "encoding": {"y": {"field": "v", "type": "quantitative", "scale": {"domain": [0, 80], "nice": false}, "axis": {"values": [0,20,40,60,80], "title": "Percentage (%)", "titleFontSize": 14, "labelFontSize": 16, "domainWidth": 2, "tickWidth": 2, "tickSize": 7, "labelPadding": 3, "titlePadding": 9}},
         "color": {"field": "g", "type": "nominal", "sort": null, "scale": {"range": ["black", "#a6a6a6"]},
          "legend": {"title": null, "orient": "none", "legendX": 27, "legendY": -12, "direction": "vertical", "labelFontSize": 15, "symbolType": "M-1.7,-0.5H1.7V0.5H-1.7Z", "symbolSize": 196, "symbolStrokeColor": "black", "symbolStrokeWidth": 2, "symbolOpacity": 1, "labelOffset": 19, "rowPadding": 0, "padding": 0, "labelColor": "black"}}}},
       {"mark": {"type": "rule", "color": "black", "strokeWidth": 1.5}, "encoding": {"y": {"field": "v", "type": "quantitative"}, "y2": {"field": "e"}}},
       {"mark": {"type": "tick", "color": "black", "thickness": 1.5, "size": 10}, "encoding": {"y": {"field": "e", "type": "quantitative"}}},
       {"mark": {"type": "text", "baseline": "bottom", "dy": 6, "fontSize": 14}, "encoding": {"y": {"field": "e", "type": "quantitative"}, "text": {"field": "star"}}}
      ]}
    ]}
  ]}
 ]}
]
}
